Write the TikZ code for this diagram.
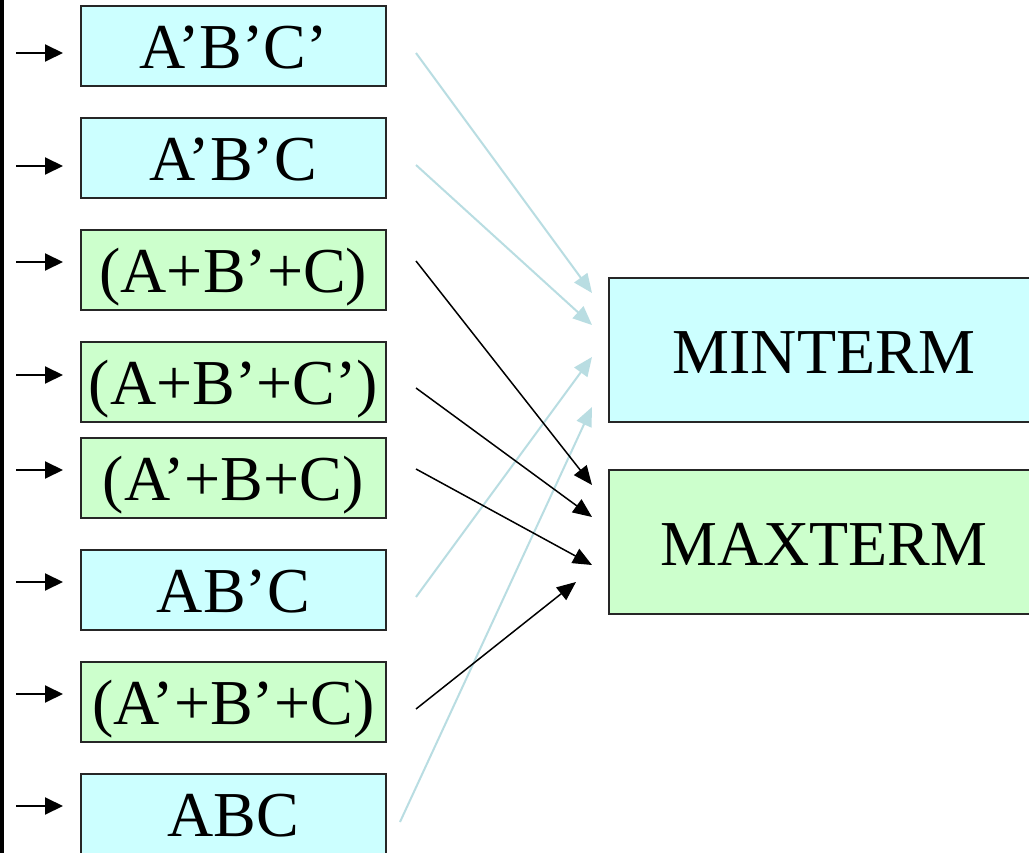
\documentclass[tikz,border=0pt]{standalone}
\usepackage{fontspec}
\setmainfont{Liberation Serif}
\usetikzlibrary{arrows.meta}
\definecolor{mincyan}{HTML}{CCFFFF}
\definecolor{maxgreen}{HTML}{CCFFCC}
\definecolor{lblue}{RGB}{185,221,226}
\tikzset{
  termtext/.style={font=\fontsize{64}{64}\selectfont},
  lbox/.style={termtext, draw=black!85, line width=1.6pt, minimum width=305pt,
    inner sep=0pt, text height=63pt, text depth=17pt, anchor=north west},
  rbox/.style={termtext, draw=black!85, line width=1.6pt, minimum width=430pt,
    inner sep=0pt, text height=96pt, text depth=48pt, anchor=north west},
  minbox/.style={fill=mincyan},
  maxbox/.style={fill=maxgreen},
  inarrow/.style={line width=2pt, -{Triangle[length=18pt,width=17pt]}},
  minlink/.style={draw=lblue, line width=2pt, -{Triangle[length=19pt,width=16pt]}},
  maxlink/.style={draw=black, line width=1.5pt, -{Triangle[length=19pt,width=16pt]}},
}
\begin{document}
\begin{tikzpicture}[x=1pt,y=-1pt]
\clip (0,0) rectangle (1029,853);
\fill[white] (0,0) rectangle (1029,853);
\fill[black] (0,0) rectangle (3.5,853);

% left boxes
\node[lbox,minbox] (t1) at (80,5)   {A’B’C’};
\node[lbox,minbox] (t2) at (80,117) {A’B’C};
\node[lbox,maxbox] (t3) at (80,229) {(A+B’+C)};
\node[lbox,maxbox] (t4) at (80,341) {(A+B’+C’)};
\node[lbox,maxbox] (t5) at (80,437) {(A’+B+C)};
\node[lbox,minbox] (t6) at (80,549) {AB’C};
\node[lbox,maxbox] (t7) at (80,661) {(A’+B’+C)};
\node[lbox,minbox] (t8) at (80,773) {ABC};

% right boxes
\node[rbox,minbox] (minterm) at (608,277) {MINTERM};
\node[rbox,maxbox] (maxterm) at (608,469) {MAXTERM};

% input arrows
\foreach \i/\y in {1/53,2/166,3/262,4/375,5/470,6/582,7/694,8/806}{
  \coordinate (a\i) at (16,\y);
  \coordinate (b\i) at (63,\y);
  \draw[inarrow] (a\i) -- (b\i);
}

% connector endpoints
\coordinate (s1) at (416,53);  \coordinate (e1) at (592,293);
\coordinate (s2) at (416,165); \coordinate (e2) at (592,325);
\coordinate (s6) at (416,597); \coordinate (e6) at (592,357);
\coordinate (s8) at (400,822); \coordinate (e8) at (592,407);
\coordinate (s3) at (416,261); \coordinate (e3) at (592,485);
\coordinate (s4) at (416,388); \coordinate (e4) at (592,517);
\coordinate (s5) at (416,469); \coordinate (e5) at (592,565);
\coordinate (s7) at (416,709); \coordinate (e7) at (576,582);

\draw[minlink] (s1) -- (e1);
\draw[minlink] (s2) -- (e2);
\draw[minlink] (s6) -- (e6);
\draw[minlink] (s8) -- (e8);
\draw[maxlink] (s3) -- (e3);
\draw[maxlink] (s4) -- (e4);
\draw[maxlink] (s5) -- (e5);
\draw[maxlink] (s7) -- (e7);
\end{tikzpicture}
\end{document}
